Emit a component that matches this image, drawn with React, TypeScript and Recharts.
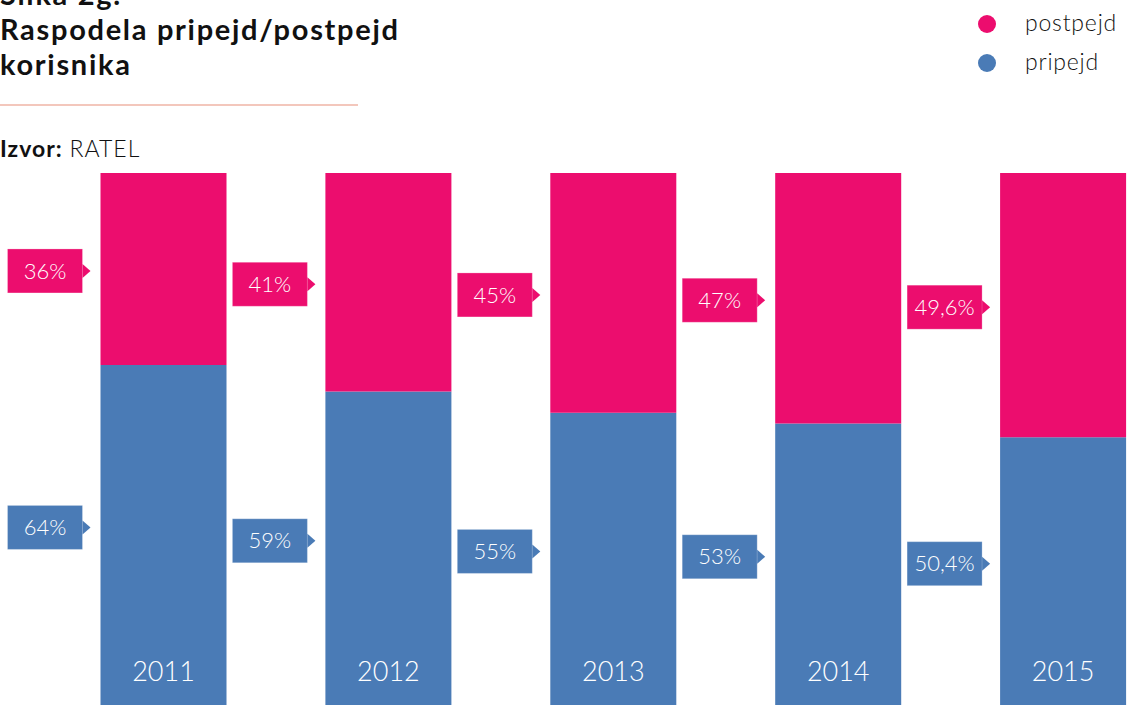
import { BarChart, Bar, XAxis, YAxis, LabelList } from 'recharts'

const years = ['2011', '2012', '2013', '2014', '2015']
const pripejd = [64, 59, 55, 53, 50.4]
const postpejd = [36, 41, 45, 47, 49.6]

const PINK = '#ec0d6e'
const BLUE = '#4a7bb6'
const FONT = 'Lato, "Open Sans", sans-serif'

const data = years.map((year, i) => ({
  year,
  pripejd: pripejd[i],
  postpejd: postpejd[i],
}))

const fmt = (v: number) => String(v).replace('.', ',') + '%'

// callout box left of the bar, pointing at the middle of the segment
function makeCallout(color: string, shift: number) {
  return (props: any) => {
    const { x, y, height, value } = props
    const cy = y + height / 2 + shift
    const right = x - 18
    const left = x - 93
    return (
      <g>
        <rect x={left} y={cy - 22} width={75} height={44} fill={color} stroke="rgba(255,255,255,0.25)" />
        <path d={`M${right},${cy - 7} L${right + 8},${cy} L${right},${cy + 7} Z`} fill={color} />
        <text
          x={(left + right) / 2}
          y={cy}
          dy="0.35em"
          textAnchor="middle"
          fill="#fff"
          fontSize={22}
          fontWeight={300}
          fontFamily={FONT}
        >
          {fmt(value)}
        </text>
      </g>
    )
  }
}

const YearLabel = (props: any) => {
  const { x, y, width, height, value } = props
  return (
    <text
      x={x + width / 2}
      y={y + height - 34}
      dy="0.35em"
      textAnchor="middle"
      fill="#fff"
      fontSize={27}
      fontWeight={300}
      fontFamily={FONT}
    >
      {value}
    </text>
  )
}

const legendItems = [
  { name: 'postpejd', color: PINK },
  { name: 'pripejd', color: BLUE },
]

export default function App() {
  return (
    <div
      style={{
        position: 'fixed',
        top: 0,
        left: 0,
        width: 1129,
        height: 705,
        overflow: 'hidden',
        background: '#fff',
        fontFamily: FONT,
      }}
    >
      <div style={{ position: 'absolute', top: 0, left: 0 }}>
        <BarChart
          width={1180}
          height={710}
          data={data}
          margin={{ top: 173, right: 4, bottom: 4, left: 51.5 }}
          barCategoryGap={0}
        >
          <XAxis dataKey="year" hide />
          <YAxis hide domain={[0, 100]} />
          <Bar dataKey="pripejd" stackId="a" fill={BLUE} barSize={126} isAnimationActive={false}>
            <LabelList dataKey="pripejd" content={makeCallout(BLUE, -8)} />
            <LabelList dataKey="year" content={YearLabel} />
          </Bar>
          <Bar dataKey="postpejd" stackId="a" fill={PINK} barSize={126} isAnimationActive={false}>
            <LabelList dataKey="postpejd" content={makeCallout(PINK, 2)} />
          </Bar>
        </BarChart>
      </div>
      <div
        style={{
          position: 'absolute',
          top: -24.5,
          left: 0,
          fontSize: 29,
          fontWeight: 700,
          lineHeight: '35px',
          letterSpacing: 1.7,
          color: '#111',
        }}
      >
        <div>Slika 2g.</div>
        <div>Raspodela pripejd/postpejd</div>
        <div>korisnika</div>
      </div>
      <div style={{ position: 'absolute', top: 104, left: 0, width: 358, height: 2, background: '#f3c7bc' }} />
      <div
        style={{
          position: 'absolute',
          top: 133,
          left: 0,
          fontSize: 23,
          lineHeight: '30px',
          letterSpacing: 1,
          color: '#111',
        }}
      >
        <b>Izvor:</b> <span style={{ fontWeight: 300 }}>RATEL</span>
      </div>
      <div style={{ position: 'absolute', top: 4, left: 978 }}>
        {legendItems.map((it) => (
          <div key={it.name} style={{ display: 'flex', alignItems: 'center', height: 39 }}>
            <span
              style={{
                width: 18,
                height: 18,
                borderRadius: 9,
                background: it.color,
                display: 'inline-block',
                marginRight: 29,
              }}
            />
            <span style={{ fontWeight: 300, fontSize: 23, letterSpacing: 0.8, color: '#111', marginTop: -3 }}>
              {it.name}
            </span>
          </div>
        ))}
      </div>
    </div>
  )
}
